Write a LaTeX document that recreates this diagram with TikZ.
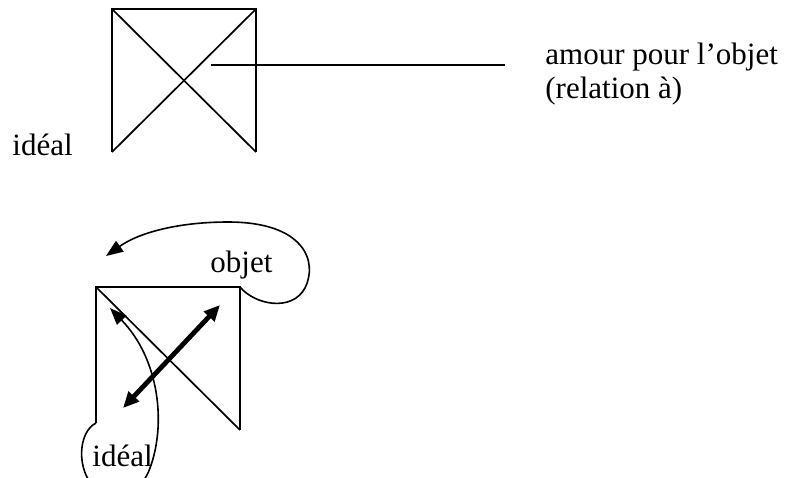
\documentclass[tikz,border=0pt]{standalone}
\usepackage{fontspec}
\setmainfont{Liberation Serif}
\usetikzlibrary{arrows.meta}
\begin{document}
\begin{tikzpicture}[x=0.5pt,y=-0.5pt,
  thinline/.style={line width=0.85pt,line join=miter},
  lbl/.style={inner sep=0pt,anchor=base west,font=\fontsize{15.5}{18}\selectfont},
  thinarrow/.style={line width=0.8pt,-{Triangle[length=8.5pt,width=6.5pt]}},
  thickarrow/.style={line width=2.4pt,{Triangle[length=8pt,width=7pt]}-{Triangle[length=8pt,width=7pt]}}]
\useasboundingbox (0,0) rectangle (790,477);
\clip (0,0) rectangle (790,477);
% top figure
\coordinate (tTL) at (112,9);
\coordinate (tTR) at (256,9);
\coordinate (tBL) at (112,152);
\coordinate (tBR) at (256,152);
\coordinate (hs) at (211,65);
\coordinate (he) at (505,65);
\draw[thinline] (tBL) -- (tTL) -- (tTR) -- (tBR);
\draw[thinline] (tTL) -- (tBR);
\draw[thinline] (tTR) -- (tBL);
\draw[thinline] (hs) -- (he);
\node[lbl] (amour) at (545,64) {amour pour l’objet};
\node[lbl] (rel) at (545,98) {(relation à)};
\node[lbl] (ideal1) at (12,155) {idéal};
% bottom figure
\coordinate (bTL) at (96,287);
\coordinate (bTR) at (240,287);
\coordinate (bBL) at (96,423);
\coordinate (bBR) at (240,430);
\draw[thinline] (bBL) -- (bTL) -- (bTR) -- (bBR);
\draw[thinline] (bTL) -- (bBR);
\coordinate (dA) at (123,408);
\coordinate (dB) at (220,305);
\draw[thickarrow] (dA) -- (dB);
\node[lbl] (objet) at (210,272) {objet};
\node[lbl] (ideal2) at (92,466) {idéal};
\coordinate (oTip) at (106,256);
\draw[thinarrow] (bTR) .. controls (255,305) and (292,312) .. (305,288)
  .. controls (318,262) and (305,222) .. (228,222)
  .. controls (180,222) and (140,232) .. (oTip);
\coordinate (iTip) at (110,308);
\draw[thinarrow] (bBL) .. controls (78,432) and (76,470) .. (95,488)
  .. controls (115,505) and (142,492) .. (150,468)
  .. controls (166,425) and (160,360) .. (iTip);
\end{tikzpicture}
\end{document}
